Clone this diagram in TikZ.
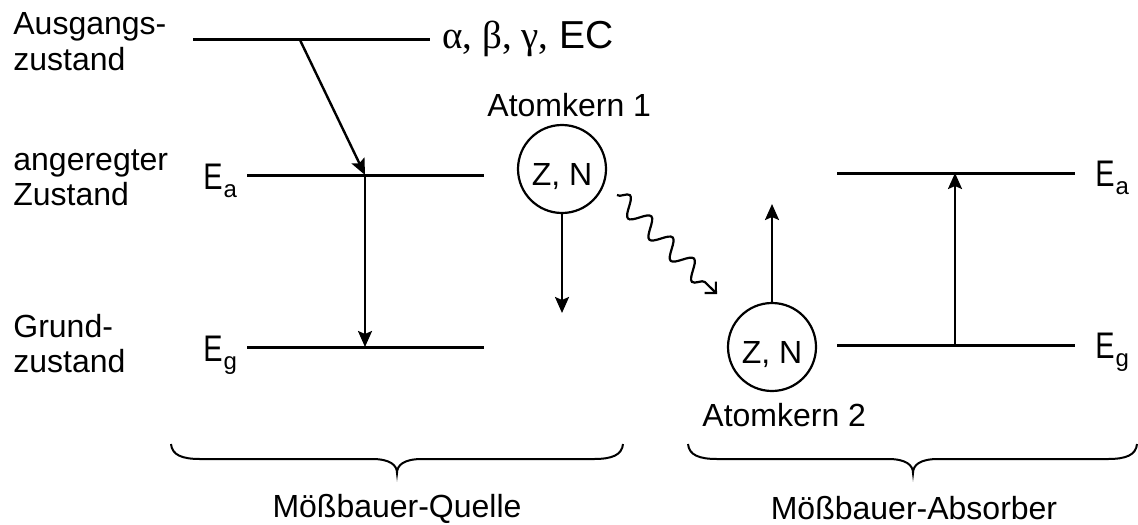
\documentclass[tikz,border=0pt]{standalone}
\usepackage{fontspec}
\usepackage{graphicx}
\setmainfont{Liberation Sans}
\newfontfamily\grfont{Liberation Serif}
\usetikzlibrary{arrows.meta,decorations.pathmorphing}
\newcommand\Elab[1]{{\fontsize{18.5}{18}\selectfont\scalebox{0.78}[1]{E}}\kern0.5pt\raisebox{-4pt}{\fontsize{12}{12}\selectfont #1}}
\begin{document}
\begin{tikzpicture}[x=0.5pt,y=-0.5pt,
  lvl/.style={line width=1.5pt},
  arr/.style={line width=1.2pt,-{Stealth[length=8pt,width=7pt,inset=1.5pt]}},
  txt/.style={inner sep=0pt,anchor=base west,font=\fontsize{16}{19}\selectfont},
  ctxt/.style={inner sep=0pt,anchor=base,font=\fontsize{16}{19}\selectfont},
  kern/.style={draw,circle,line width=1.1pt,minimum size=44pt,inner sep=0pt,font=\fontsize{16}{19}\selectfont,text height=16pt,text depth=0pt},
  brc/.style={line width=1pt},
  elab/.style={inner sep=0pt,anchor=base west},
  wave/.style={line width=1.1pt,decorate,decoration={snake,amplitude=4.5pt,segment length=15pt,post length=4pt},-{Straight Barb[length=4pt,width=8pt]}}
]
\useasboundingbox (0,0) rectangle (1138,524);
% left labels
\node[txt] (l1a) at (13,35) {Ausgangs-};
\node[txt] (l1b) at (13,71) {zustand};
\node[txt] (l2a) at (13,170) {angeregter};
\node[txt] (l2b) at (13,205) {Zustand};
\node[txt] (l3a) at (13,337) {Grund-};
\node[txt] (l3b) at (13,372) {zustand};
% source levels
\coordinate (s0a) at (193,40); \coordinate (s0b) at (430,40);
\coordinate (saa) at (247,175); \coordinate (sab) at (484,175);
\coordinate (sga) at (247,347); \coordinate (sgb) at (484,347);
\draw[lvl] (s0a) -- (s0b);
\draw[lvl] (saa) -- (sab);
\draw[lvl] (sga) -- (sgb);
\node[elab] (ea1) at (203,189) {\Elab{a}};
\node[elab] (eg1) at (203,361) {\Elab{g}};
\node[elab,font=\fontsize{19.5}{20}\selectfont] (dec) at (442,49) {{\grfont α, β, γ,} EC};
% decay arrows
\coordinate (d0) at (300,40); \coordinate (d1) at (365,175); \coordinate (d2) at (365,347);
\draw[arr] (d0) -- (d1);
\draw[arr] (d1) -- (d2);
% nucleus 1
\node[kern] (k1) at (562,169) {Z, N};
\node[txt] (ak1) at (487,116) {Atomkern 1};
\coordinate (r1) at (562,313);
\draw[arr] (k1.south) -- (r1);
% gamma
\coordinate (w1) at (617,195); \coordinate (w2) at (717,294);
\draw[wave] (w1) -- (w2);
% nucleus 2
\node[kern] (k2) at (772,347) {Z, N};
\node[txt] (ak2) at (702,426) {Atomkern 2};
\coordinate (r2) at (772,204);
\draw[arr] (k2.north) -- (r2);
% absorber levels
\coordinate (taa) at (837,173); \coordinate (tab) at (1075,173);
\coordinate (tga) at (837,345); \coordinate (tgb) at (1075,345);
\draw[lvl] (taa) -- (tab);
\draw[lvl] (tga) -- (tgb);
\node[elab] (ea2) at (1095,186) {\Elab{a}};
\node[elab] (eg2) at (1095,358) {\Elab{g}};
\coordinate (u0) at (955,345); \coordinate (u1) at (955,173);
\draw[arr] (u0) -- (u1);
% braces
\draw[brc] (171,444) .. controls (172,455) and (182,459) .. (200,459) -- (372,459)
  .. controls (390,459) and (397,465) .. (397,473)
  .. controls (397,465) and (404,459) .. (422,459) -- (594,459)
  .. controls (612,459) and (622,455) .. (623,444);
\draw[brc] (688,444) .. controls (689,455) and (699,459) .. (717,459) -- (888,459)
  .. controls (906,459) and (913,465) .. (913,473)
  .. controls (913,465) and (920,459) .. (938,459) -- (1108,459)
  .. controls (1126,459) and (1136,455) .. (1137,444);
\node[ctxt] (q) at (397,517) {Mößbauer-Quelle};
\node[ctxt] (a) at (914,519) {Mößbauer-Absorber};
\end{tikzpicture}
\end{document}
